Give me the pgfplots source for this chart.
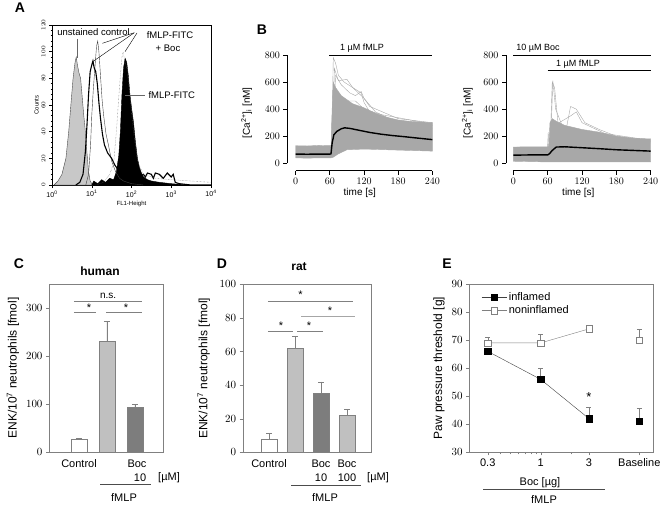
\documentclass[border=0pt]{standalone}
\usepackage{pgfplots}
\pgfplotsset{compat=1.18}
\usepackage{fontspec}
\setmainfont{Liberation Sans}
\definecolor{trace}{RGB}{168,168,168}
\definecolor{frame}{RGB}{128,128,128}
\definecolor{lightbar}{RGB}{192,192,192}
\definecolor{darkbar}{RGB}{125,125,125}
\definecolor{histgray}{RGB}{200,200,200}
\newcommand{\fs}[1]{\fontsize{#1}{#1}\selectfont}
\pgfplotsset{emark/.style={error bars/.cd, y dir=plus, y explicit, error bar style={frame}, error mark options={frame, mark size=#1, rotate=90}}}
\begin{document}
\begin{tikzpicture}
\path[use as bounding box] (0,0) rectangle (661pt,-508pt);

% ================= Panel A =================
\begin{axis}[
  at={(52pt,-185pt)}, anchor=south west,
  scale only axis, width=159pt, height=160pt,
  xmin=0, xmax=4, ymin=0, ymax=120,
  xtick={0,1,2,3,4},
  xticklabels={10\textsuperscript{0},10\textsuperscript{1},10\textsuperscript{2},10\textsuperscript{3},10\textsuperscript{4}},
  ytick={0,20,...,120}, minor y tick num=4,
  tick align=outside, major tick length=3pt, minor tick length=1.5pt,
  tick style={black, thin},
  xtick pos=bottom, ytick pos=left,
  xticklabel style={font=\fs{7}, yshift=1pt},
  yticklabel style={font=\fs{6}, rotate=90, anchor=south},
  xlabel={FL1-Height}, xlabel style={font=\fs{6}, yshift=2.5pt},
  ylabel={Counts}, ylabel style={font=\fs{6}, yshift=-4pt},
  axis line style={black, thin},
  clip=true,
]
\addplot[fill=histgray, draw=black!70, thin] coordinates {
(0.05,0)(0.15,3)(0.25,8)(0.35,20)(0.42,40)(0.48,62)(0.53,80)(0.58,92)(0.61,96)(0.64,90)(0.68,84)(0.72,80)(0.76,66)(0.8,52)(0.84,40)(0.88,24)(0.92,10)(0.96,3)(1.02,0)} \closedcycle;
\addplot[fill=black, draw=black, thin] coordinates {
(1.0,0)(1.05,3)(1.15,1)(1.25,4)(1.35,2)(1.45,5)(1.55,4)(1.62,10)(1.68,22)(1.72,40)(1.76,68)(1.8,88)(1.84,95)(1.88,92)(1.92,82)(1.96,68)(2.0,58)(2.05,47)(2.1,32)(2.15,20)(2.2,13)(2.25,9)(2.3,6)(2.4,4)(2.5,3)(2.7,2)(3.0,1)(3.4,0)} \closedcycle;
\addplot[draw=black!75, thin] coordinates {
(0.85,0)(0.92,8)(0.97,30)(1.0,52)(1.04,72)(1.08,88)(1.12,104)(1.15,108)(1.18,100)(1.22,82)(1.26,64)(1.3,52)(1.36,38)(1.42,30)(1.5,18)(1.6,10)(1.7,5)(1.8,3)(2.0,1)(2.3,0)};
\addplot[draw=black, line width=1.1pt] coordinates {
(0.6,0)(0.7,2)(0.78,8)(0.84,25)(0.88,45)(0.92,68)(0.96,85)(1.0,90)(1.03,93)(1.06,88)(1.1,85)(1.14,76)(1.18,62)(1.22,50)(1.27,38)(1.32,30)(1.4,24)(1.5,20)(1.58,15)(1.65,12)(1.72,8)(1.8,6)(2.0,5)(2.2,6)(2.3,8)(2.35,6)(2.4,9)(2.5,8)(2.55,5)(2.6,9)(2.7,8)(2.8,5)(2.9,9)(3.0,6)(3.05,8)(3.1,2)(3.2,1)(3.5,0)(4,0)};
\addplot[draw=black!60, densely dotted, thin] coordinates {
(1.1,0)(1.3,2)(1.45,8)(1.55,16)(1.62,40)(1.68,66)(1.72,82)(1.76,96)(1.79,100)(1.83,93)(1.88,88)(1.95,70)(2.05,40)(2.15,18)(2.3,8)(2.6,5)(3.0,4)(3.5,3)(4.0,2)};
\end{axis}

% ================= Panel B left =================
\begin{axis}[
  at={(287.3pt,-170.7pt)}, anchor=south west,
  scale only axis, width=145pt, height=115.7pt,
  xmin=-14.8, xmax=240, ymin=-54.7, ymax=800,
  axis x line*=bottom, axis y line*=left,
  x axis line style={-, shorten <=8.4pt, line width=1pt},
  y axis line style={-, shorten <=7.4pt, line width=1pt},
  xtick={0,60,...,240}, ytick={0,200,...,800},
  tick align=outside, major tick length=4pt,
  tick style={black, line width=0.8pt},
  tick label style={font=\fs{10}},
  xlabel={time [s]}, xlabel style={font=\fs{10}, yshift=3pt},
  ylabel={[Ca\textsuperscript{2+}]\textsubscript{i} [nM]}, ylabel style={font=\fs{10}, yshift=6pt},
  clip=false,
]
\addplot[fill=trace, draw=trace, thin] coordinates {
(0,130)(20,128)(40,132)(62,130)(64,400)(66,600)(70,560)(80,500)(100,440)(120,410)(140,370)(160,340)(180,320)(200,310)(220,305)(240,300)
(240,90)(200,95)(160,100)(120,105)(90,100)(75,70)(66,45)(62,40)(40,40)(20,38)(0,40)} -- cycle;
\addplot[trace, thin] coordinates {(60,70)(63,80)(66,780)(70,740)(75,650)(85,600)(100,560)(120,480)(140,380)(180,300)(240,260)};
\addplot[trace, thin] coordinates {(60,65)(64,90)(68,700)(75,610)(90,620)(100,560)(115,520)(120,450)(130,380)(160,330)(240,280)};
\addplot[trace, thin] coordinates {(60,70)(65,100)(70,650)(80,580)(95,520)(105,500)(115,530)(120,480)(130,420)(180,330)(240,300)};
\addplot[trace, thin] coordinates {(62,60)(66,550)(72,480)(90,460)(105,460)(120,400)(150,360)(240,290)};
\addplot[black, line width=1.4pt] coordinates {
(0,68)(20,67)(40,68)(60,68)(62,70)(64,150)(67,210)(72,235)(80,255)(86,262)(95,258)(110,245)(130,228)(150,215)(170,205)(190,197)(210,188)(240,175)};
\end{axis}

% ================= Panel B right =================
\begin{axis}[
  at={(506pt,-170.7pt)}, anchor=south west,
  scale only axis, width=144.7pt, height=115.7pt,
  xmin=-12.8, xmax=240, ymin=-54.7, ymax=800,
  axis x line*=bottom, axis y line*=left,
  x axis line style={-, shorten <=7.3pt, line width=1pt},
  y axis line style={-, shorten <=7.4pt, line width=1pt},
  xtick={0,60,...,240}, ytick={0,200,...,800},
  tick align=outside, major tick length=4pt,
  tick style={black, line width=0.8pt},
  tick label style={font=\fs{10}},
  xlabel={time [s]}, xlabel style={font=\fs{10}, yshift=3pt},
  ylabel={[Ca\textsuperscript{2+}]\textsubscript{i} [nM]}, ylabel style={font=\fs{10}, yshift=4pt},
  clip=false,
]
\addplot[fill=trace, draw=trace, thin] coordinates {
(0,120)(30,122)(60,122)(62,125)(64,300)(68,330)(75,310)(90,280)(120,250)(150,230)(180,200)(210,185)(240,180)
(240,10)(120,10)(60,10)(0,15)} -- cycle;
\addplot[trace, thin] coordinates {(60,60)(64,100)(68,600)(72,560)(78,300)(90,250)(120,200)(240,150)};
\addplot[trace, thin] coordinates {(60,60)(65,120)(69,610)(74,400)(85,280)(110,220)(240,160)};
\addplot[trace, thin] coordinates {(59,50)(61,230)(62,60)(70,100)};
\addplot[trace, thin] coordinates {(60,60)(70,120)(90,200)(100,420)(110,400)(125,300)(150,250)(180,200)(240,170)};
\addplot[trace, thin] coordinates {(60,50)(68,120)(80,300)(100,350)(110,380)(120,300)(160,220)(240,170)};
\addplot[black, line width=1.4pt] coordinates {
(0,60)(30,62)(60,62)(63,70)(68,95)(75,120)(90,122)(120,115)(150,108)(180,100)(210,95)(240,90)};
\end{axis}

% ================= Panel C =================
\begin{axis}[
  at={(49pt,-451.7pt)}, anchor=south west,
  scale only axis, width=114pt, height=167.7pt,
  xmin=-0.071, xmax=4.0, ymin=0, ymax=350,
  axis line style={frame},
  xtick=\empty, ytick={0,100,200,300}, ytick pos=left,
  tick align=outside, major tick length=3pt, tick style={frame},
  yticklabel style={font=\fs{11}},
  ylabel={ENK/10\textsuperscript{7} neutrophils [fmol]}, ylabel style={font=\fs{12}},
  clip=false,
]
\addplot[ybar, bar width=16.5pt, fill=white, draw=frame, emark=3pt] coordinates {(1,27) +- (0,1)};
\addplot[ybar, bar width=16.5pt, fill=lightbar, draw=frame, emark=3pt] coordinates {(2,230) +- (0,43)};
\addplot[ybar, bar width=16.5pt, fill=darkbar, draw=frame, emark=3pt] coordinates {(3,92) +- (0,7)};
\draw[frame] (axis cs:0.82,314) -- (axis cs:3.25,314);
\draw[frame] (axis cs:0.82,291) -- (axis cs:1.607,291);
\draw[frame] (axis cs:1.965,291) -- (axis cs:3.25,291);
\node[font=\fs{10}, anchor=base] at (axis cs:2.04,320) {n.s.};
\node[font=\fs{11}, anchor=base] at (axis cs:1.36,293) {*};
\node[font=\fs{11}, anchor=base] at (axis cs:2.68,293) {*};
\end{axis}

% ================= Panel D =================
\begin{axis}[
  at={(242.7pt,-452.3pt)}, anchor=south west,
  scale only axis, width=128.3pt, height=168pt,
  xmin=-0.019, xmax=4.916, ymin=0, ymax=100,
  axis line style={frame},
  xtick=\empty, ytick={0,20,...,100}, ytick pos=left,
  tick align=outside, major tick length=3pt, tick style={frame},
  yticklabel style={font=\fs{11}},
  ylabel={ENK/10\textsuperscript{7} neutrophils [fmol]}, ylabel style={font=\fs{12}, yshift=3pt},
  clip=false,
]
\addplot[ybar, bar width=16.3pt, fill=white, draw=frame, emark=3pt] coordinates {(1,8) +- (0,3.5)};
\addplot[ybar, bar width=16.3pt, fill=lightbar, draw=frame, emark=3pt] coordinates {(2,62) +- (0,7)};
\addplot[ybar, bar width=16.3pt, fill=darkbar, draw=frame, emark=3pt] coordinates {(3,35) +- (0,7)};
\addplot[ybar, bar width=16.3pt, fill=lightbar, draw=frame, emark=3pt] coordinates {(4,22) +- (0,3.7)};
\draw[frame] (axis cs:0.954,90.2) -- (axis cs:4.22,90.2);
\draw[frame!70, line width=0.9pt] (axis cs:2.224,81) -- (axis cs:4.30,81);
\draw[frame] (axis cs:0.954,72) -- (axis cs:1.915,72);
\draw[frame] (axis cs:2.07,72) -- (axis cs:3.058,72);
\node[font=\fs{11}, anchor=base] at (axis cs:2.2,91.5) {*};
\node[font=\fs{11}, anchor=base] at (axis cs:3.34,82.3) {*};
\node[font=\fs{11}, anchor=base] at (axis cs:1.45,73.3) {*};
\node[font=\fs{11}, anchor=base] at (axis cs:2.53,73.3) {*};
\end{axis}

% ================= Panel E =================
\begin{axis}[
  at={(469pt,-452.3pt)}, anchor=south west,
  scale only axis, width=184.3pt, height=168.3pt,
  xmode=log, xmin=0.196, xmax=12.95, ymin=30, ymax=90,
  axis line style={frame},
  xtick={0.3,1,3,9.42}, xticklabels={0.3,1,3,Baseline},
  minor xtick={0.4,0.5,0.6,0.7,0.8,0.9,2},
  ytick={30,40,...,90}, ytick pos=left, xtick pos=bottom,
  tick align=outside, major tick length=3pt, minor tick length=2pt, tick style={frame},
  tick label style={font=\fs{11}},
  ylabel={Paw pressure threshold [g]}, ylabel style={font=\fs{12}},
  clip=false,
  legend style={at={(rel axis cs:0.05,0.975)}, anchor=north west, draw=none, fill=none, font=\fs{11}, row sep=0pt},
  legend cell align=left,
  legend image code/.code={\draw[#1, mark repeat=2, mark phase=2] plot coordinates {(0pt,0pt)(12.5pt,0pt)(25pt,0pt)};},
]
\addplot[draw=black!75, thin, mark=square*, mark size=3.2pt, mark options={fill=black, draw=black, solid}, emark=2.5pt]
  coordinates {(0.3,66) +- (0,0) (1,56) +- (0,4) (3,42) +- (0,4)};
\addlegendentry{inflamed}
\addplot[draw=frame, thin, mark=square*, mark size=3.2pt, mark options={fill=white, draw=frame, solid}, emark=2.5pt]
  coordinates {(0.3,69) +- (0,2) (1,69) +- (0,3) (3,74) +- (0,0.5)};
\addlegendentry{noninflamed}
\addplot[forget plot, only marks, mark=square*, mark size=3.2pt, mark options={fill=black, draw=black}, emark=2.5pt]
  coordinates {(9.42,41) +- (0,4.7)};
\addplot[forget plot, only marks, mark=square*, mark size=3.2pt, mark options={fill=white, draw=frame}, emark=2.5pt]
  coordinates {(9.42,70) +- (0,4)};
\node[font=\fs{13}, anchor=base] at (axis cs:3,48) {*};
\end{axis}

% ================= Annotations =================
\begin{scope}[x=1pt, y=-1pt]
% panel letters
\node[font=\bfseries\fs{14}] at (20,8) {A};
\node[font=\bfseries\fs{14}] at (262,30) {B};
\node[font=\bfseries\fs{14}] at (19,264) {C};
\node[font=\bfseries\fs{14}] at (222,264) {D};
\node[font=\bfseries\fs{14}] at (447,264) {E};
% panel A labels
\node[font=\fs{9.5}] at (93.5,31.7) {unstained control};
\draw[black!60, thin] (76.7,39) -- (76.7,58);
\node[font=\fs{9.5}] at (170,35) {fMLP-FITC};
\node[font=\fs{9.5}] at (168,48) {+ Boc};
\draw[black, thin] (134.3,32.7) -- (102.3,43.3);
\draw[black, thin] (134.3,32.7) -- (92.7,61.7);
\draw[black, thin] (137,33) -- (125,51.7);
\node[font=\fs{9.5}, anchor=west] at (145,95) {fMLP-FITC};
\draw[black!60, thin] (125,95) -- (145,95);
% panel B labels
\draw[black, line width=0.8pt] (329.3,55) -- (432.3,55);
\node[font=\fs{9}] at (362,48) {1 µM fMLP};
\draw[black, line width=0.8pt] (513.3,55) -- (650.7,55);
\node[font=\fs{9}] at (538,48) {10 µM Boc};
\draw[black, line width=0.8pt] (547.7,70.7) -- (650.7,70.7);
\node[font=\fs{9}] at (578,64) {1 µM fMLP};
% panel C labels
\node[font=\bfseries\fs{12}] at (100,271) {human};
\node[font=\fs{11}] at (79,464) {Control};
\node[font=\fs{11}] at (137,464) {Boc};
\node[font=\fs{11}] at (140,478) {10};
\node[font=\fs{11}] at (169,478) {[µM]};
\draw[black!70] (100,484.5) -- (151,484.5);
\node[font=\fs{11}] at (124,498) {fMLP};
% panel D labels
\node[font=\bfseries\fs{12}] at (299,267) {rat};
\node[font=\fs{11}] at (269,464) {Control};
\node[font=\fs{11}] at (321,464) {Boc};
\node[font=\fs{11}] at (347,464) {Boc};
\node[font=\fs{11}] at (321,478) {10};
\node[font=\fs{11}] at (347,478) {100};
\node[font=\fs{11}] at (378,478) {[µM]};
\draw[black!70] (291,485) -- (360.7,485);
\node[font=\fs{11}] at (325,498) {fMLP};
% panel E labels
\node[font=\fs{11}] at (540,482.7) {Boc [µg]};
\draw[black!70] (483,489) -- (605,489);
\node[font=\fs{11}] at (544,500) {fMLP};
\end{scope}
\end{tikzpicture}
\end{document}
